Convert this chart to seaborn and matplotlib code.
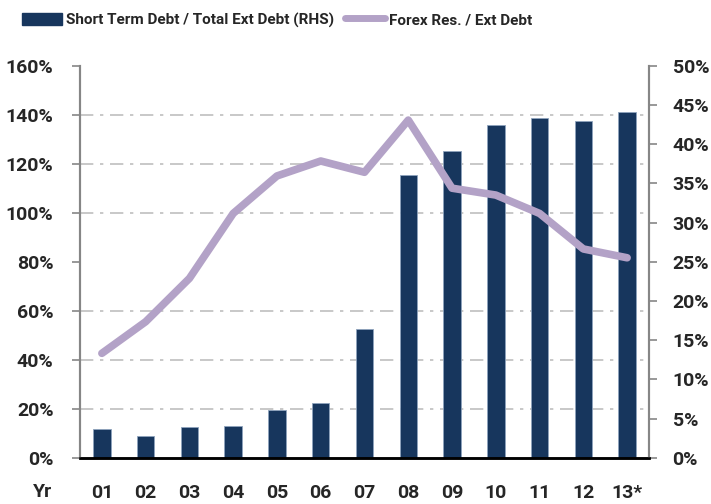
import seaborn as sns
import pandas as pd
import numpy as np
import matplotlib
matplotlib.use("Agg")
import matplotlib.pyplot as plt
from matplotlib.ticker import MultipleLocator, FuncFormatter
from matplotlib.patches import Patch
from matplotlib.lines import Line2D

# data
years = ["01", "02", "03", "04", "05", "06", "07", "08", "09", "10", "11", "12", "13*"]
st_debt = [3.6, 2.8, 3.9, 4.0, 6.1, 7.0, 16.4, 36.0, 39.1, 42.5, 43.3, 42.9, 44.1]   # RHS
forex = [42.6, 55.5, 73.2, 99.7, 115.0, 121.1, 116.5, 137.8, 110.0, 107.2, 99.7, 85.2, 81.6]  # LHS

df = pd.DataFrame({"year": years, "st_debt": st_debt, "forex": forex})

sns.set_style("white")
plt.rcParams["font.family"] = ["Roboto", "DejaVu Sans"]
plt.rcParams["font.weight"] = "bold"

bar_col = "#17365d"
line_col = "#b3a2c7"
grey = "#868686"

fig = plt.figure(figsize=(7.11, 5.04), dpi=100)
ax = fig.add_axes([80 / 711, 1 - 457.7 / 504, (649 - 80) / 711, (457.7 - 65.7) / 504])

# bars go on the base axes (scaled to RHS), line on the twin so it sits on top
sns.barplot(data=df, x="year", y="st_debt", color=bar_col, width=0.4,
            edgecolor="#8ea3bd", linewidth=0.6, saturation=1, ax=ax, zorder=2)
ax.set_ylim(0, 50)
ax.set_xlim(-0.5, 12.5)

ax2 = ax.twinx()
sns.lineplot(x=np.arange(len(years)), y=df["forex"], color=line_col, linewidth=5.5,
             solid_capstyle="round", ax=ax2)
ax2.set_ylim(0, 160)

# swap sides: LHS labels from the line axes, RHS from the bar axes
ax.yaxis.tick_right()
ax.yaxis.set_label_position("right")
ax2.yaxis.tick_left()
ax2.yaxis.set_label_position("left")

ax.yaxis.set_major_locator(MultipleLocator(5))
ax.yaxis.set_major_formatter(FuncFormatter(lambda v, p: f"{v:.0f}%"))
ax2.yaxis.set_major_locator(MultipleLocator(20))
ax2.yaxis.set_major_formatter(FuncFormatter(lambda v, p: f"{v:.0f}%"))

# gridlines behind the bars, in line with the LHS ticks
ax.yaxis.set_minor_locator(MultipleLocator(50 / 8))
ax.grid(which="minor", axis="y", color="#bfbfbf", linestyle=(0, (8, 4, 2, 4)), linewidth=1.2, zorder=0)
ax.set_axisbelow(True)

fs = 14
ax.set_xticks(np.arange(-0.5, 13, 1), minor=True)
ax.tick_params(axis="x", which="major", length=0, pad=19, labelsize=fs)
ax.tick_params(axis="x", which="minor", length=6, width=1.5, color="black", direction="out")
ax.tick_params(axis="y", which="minor", length=0)
ax.tick_params(axis="y", which="major", length=6, width=1.2, color=grey, labelsize=fs, pad=11)
ax2.tick_params(axis="y", length=6, width=1.2, color=grey, labelsize=fs, pad=13)

ax.set_xlabel("")
ax.set_ylabel("")
ax2.set_ylabel("")

for a in (ax, ax2):
    a.spines["top"].set_visible(False)
    a.spines["left"].set_color(grey)
    a.spines["right"].set_color(grey)
    a.spines["left"].set_linewidth(1.5)
    a.spines["right"].set_linewidth(1.5)
    a.spines["bottom"].set_color("black")
    a.spines["bottom"].set_linewidth(1.8)

fig.text(43 / 711, 1 - 492 / 504, "Yr", ha="center", va="center", fontsize=fs, fontweight="bold")

handles = [Patch(facecolor=bar_col, edgecolor=bar_col),
           Line2D([0], [0], color=line_col, linewidth=5)]
labels = ["Short Term Debt / Total Ext Debt (RHS)", "Forex Res. / Ext Debt"]
fig.legend(handles, labels, loc="center left", bbox_to_anchor=(22 / 711, 1 - 20 / 504), ncol=2,
           frameon=False, handlelength=2.6, handleheight=0.9, handletextpad=0.3, columnspacing=0.7,
           borderaxespad=0, borderpad=0, prop={"weight": "bold", "size": 11})

fig.savefig("out.png", dpi=100)
